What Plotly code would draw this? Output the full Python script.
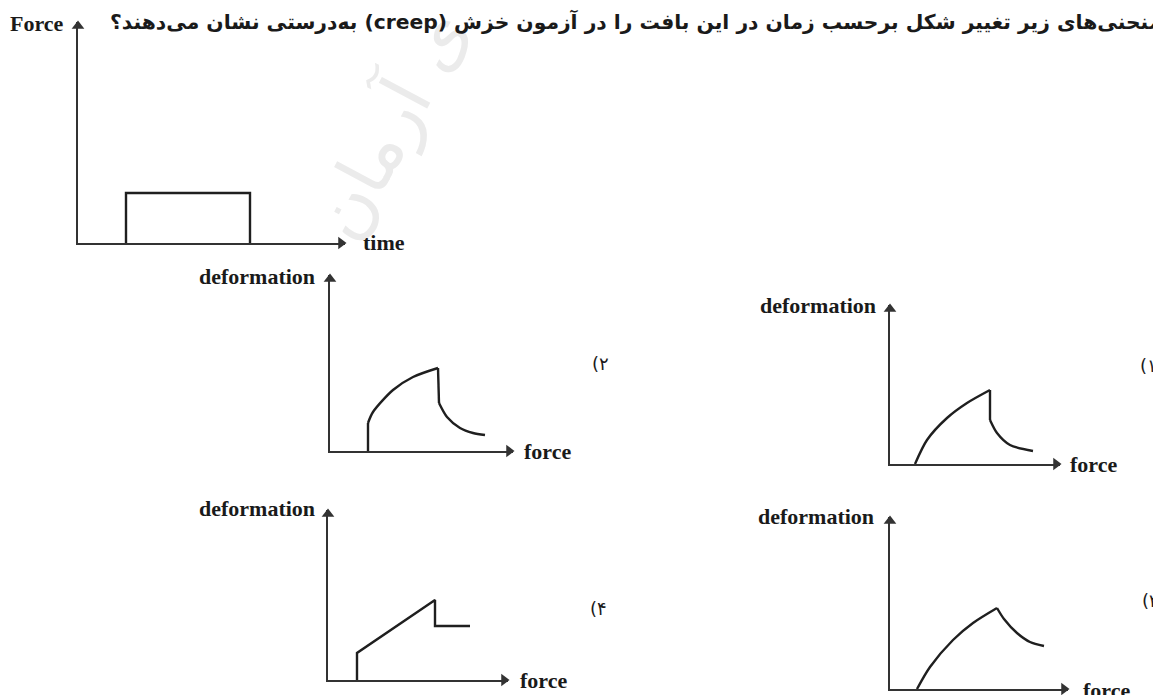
import plotly.graph_objects as go

# canvas of the original page
W, H = 1161, 695
OFF = 8  # the page body margin shifts the figure, so pull everything back

# ---- data (offsets from each panel's origin) ----
# top panel: applied force vs time (square pulse)
pulse_time = [48, 48, 172, 172]
pulse_force = [0, 50, 50, 0]

# option 2 (top left)
opt2_step_x = [38, 38]
opt2_step_y = [0, 28]
opt2_rise_x = [38, 43, 63, 83, 108]
opt2_rise_y = [28, 39, 61, 74, 83]
opt2_decay_x = [109, 117, 130, 143, 155]
opt2_decay_y = [48, 34, 23, 18, 16]

# option 1 (top right)
opt1_rise_x = [25, 37, 57, 77, 100]
opt1_rise_y = [0, 24, 46, 61, 74]
opt1_decay_x = [100, 107, 120, 143]
opt1_decay_y = [44, 31, 19, 13]

# option 4 (bottom left)
opt4_x = [29, 29, 107, 107, 142]
opt4_y = [0, 27, 80, 54, 54]

# option 3 (bottom right)
opt3_rise_x = [27, 40, 63, 83, 107]
opt3_rise_y = [0, 22, 49, 66, 81]
opt3_decay_x = [107, 114, 127, 140, 154]
opt3_decay_y = [81, 70, 56, 47, 43]

question = "منحنی‌های زیر تغییر شکل برحسب زمان در این بافت را در آزمون خزش (creep) به‌درستی نشان می‌دهند؟"
# option numbers as typed in the Persian source ("۲)" shows as "(۲" right-to-left)
option_marks = ["۲)", "۱)", "۴)", "۳)"]

# panel frames in page pixels: origin x, origin y, arrow tip x, arrow tip y
panels = [
    (78, 243, 345, 22),
    (330, 451, 513, 275),
    (890, 464, 1060, 305),
    (328, 680, 508, 510),
    (890, 689, 1068, 517),
]

INK = "#1f1f1f"
AX = "#333333"
serif = "Liberation Serif"


def fx(p):
    return (p - OFF) / W


def fy(p):
    return 1 - (p - OFF) / H


fig = go.Figure()
layout = {}

for i, (ox, oy, tx, ty) in enumerate(panels):
    n = "" if i == 0 else str(i + 1)
    xlen, ylen = tx - ox, oy - ty
    axis = dict(showline=True, linecolor=AX, linewidth=1.8, showgrid=False,
                zeroline=False, showticklabels=False, ticks="", fixedrange=True)
    layout["xaxis" + n] = dict(axis, domain=[fx(ox), fx(tx)], range=[0, xlen],
                               anchor="y" + n)
    layout["yaxis" + n] = dict(axis, domain=[fy(oy), fy(ty)], range=[0, ylen],
                               anchor="x" + n)
    # arrow heads on both axes
    fig.add_trace(go.Scatter(x=[xlen - 4, 0], y=[0, ylen - 4], xaxis="x" + n, yaxis="y" + n,
                             mode="markers", cliponaxis=False,
                             marker=dict(symbol=["triangle-right", "triangle-up"],
                                         size=11, color=AX)))


def line(x, y, ax, shape="linear"):
    n = "" if ax == 1 else str(ax)
    fig.add_trace(go.Scatter(x=x, y=y, xaxis="x" + n, yaxis="y" + n, mode="lines",
                             cliponaxis=False,
                             line=dict(color=INK, width=2.4, shape=shape, smoothing=0.8)))


line(pulse_time, pulse_force, 1)

line(opt2_step_x, opt2_step_y, 2)
line(opt2_rise_x, opt2_rise_y, 2, "spline")
line([opt2_rise_x[-1], opt2_decay_x[0]], [opt2_rise_y[-1], opt2_decay_y[0]], 2)
line(opt2_decay_x, opt2_decay_y, 2, "spline")

line(opt1_rise_x, opt1_rise_y, 3, "spline")
line([opt1_rise_x[-1], opt1_decay_x[0]], [opt1_rise_y[-1], opt1_decay_y[0]], 3)
line(opt1_decay_x, opt1_decay_y, 3, "spline")

line(opt4_x, opt4_y, 4)

line(opt3_rise_x, opt3_rise_y, 5, "spline")
line(opt3_decay_x, opt3_decay_y, 5, "spline")


def label(text, x, y, xanchor, size=22, family=serif, color="#1a1a1a", angle=0):
    fig.add_annotation(text=text, x=fx(x), y=fy(y), xref="paper", yref="paper",
                       xanchor=xanchor, yanchor="middle", showarrow=False,
                       textangle=angle, font=dict(family=family, size=size, color=color))


# faint watermark
label("ی آرمان", 390, 125, "center", size=72, family="DejaVu Sans", color="#ebebeb", angle=-62)

label("<b>\u202b" + question + "\u202c</b>", 1163, 22, "right", size=20.3, family="DejaVu Sans")
label("<b>Force</b>", 66, 24, "right")
label("<b>time</b>", 361, 242, "left")

for x, y in [(317, 276), (878, 305), (317, 508), (876, 516)]:
    label("<b>deformation</b>", x, y, "right")
for x, y in [(522, 451), (1068, 465), (518, 680), (1081, 690)]:
    label("<b>force</b>", x, y, "left")
for t, x, y in zip(option_marks, [590, 1138, 588, 1140], [364, 365, 608, 600]):
    label("\u202b" + t + "\u202c", x, y, "left", size=18, family="DejaVu Sans")

fig.update_layout(layout)
fig.update_layout(width=W, height=H, margin=dict(l=0, r=0, t=0, b=0),
                  paper_bgcolor="white", plot_bgcolor="white",
                  showlegend=False, hovermode=False)

fig.write_html("out.html", config={"displayModeBar": False})
